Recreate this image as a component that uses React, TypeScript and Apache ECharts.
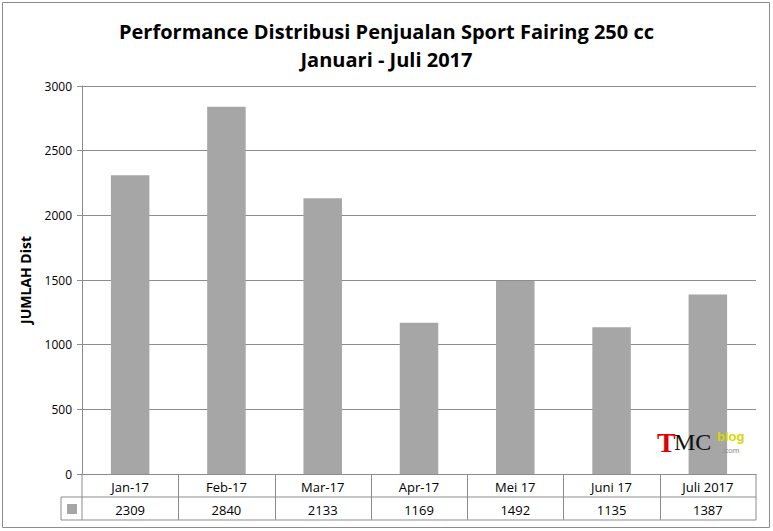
import React, { useEffect, useRef } from 'react';
import * as echarts from 'echarts';

const categories = ['Jan-17', 'Feb-17', 'Mar-17', 'Apr-17', 'Mei 17', 'Juni 17', 'Juli 2017'];
const values = [2309, 2840, 2133, 1169, 1492, 1135, 1387];
const titleLines = ['Performance Distribusi Penjualan Sport Fairing 250 cc', 'Januari - Juli 2017'];

const L = 82, R = 756, T = 86, B = 474, ROW = 23;

const App = () => {
  const ref = useRef<HTMLDivElement>(null);

  useEffect(() => {
    document.body.style.margin = '0';
    const chart = echarts.init(ref.current, null, { renderer: 'svg' });
    const line = '#8c8c8c';
    const colW = (R - L) / categories.length;
    const tableLines: any[] = [
      { type: 'line', shape: { x1: L, y1: B, x2: L, y2: B + 2 * ROW } },
      { type: 'line', shape: { x1: R, y1: B, x2: R, y2: B + 2 * ROW } },
      { type: 'line', shape: { x1: 61, y1: B + ROW, x2: R, y2: B + ROW } },
      { type: 'line', shape: { x1: 61, y1: B + 2 * ROW, x2: R, y2: B + 2 * ROW } },
      { type: 'line', shape: { x1: 61, y1: B + ROW, x2: 61, y2: B + 2 * ROW } },
    ];
    categories.forEach((_, i) => {
      if (i > 0) {
        const x = Math.round(L + colW * i) + 0.5;
        tableLines.push({ type: 'line', shape: { x1: x, y1: B, x2: x, y2: B + 2 * ROW } });
      }
    });
    chart.setOption({
      animation: false,
      title: {
        text: titleLines.join('\n'),
        left: 'center',
        top: 12,
        textStyle: { fontFamily: 'Open Sans', fontSize: 20, fontWeight: 'bold', color: '#000', lineHeight: 28 },
      },
      grid: { left: L, right: 773 - R, top: T, bottom: 531 - B },
      xAxis: [
        {
          type: 'category', data: categories, position: 'bottom',
          axisLine: { lineStyle: { color: line } }, axisTick: { show: false },
          axisLabel: { color: '#000', fontSize: 13, fontFamily: 'Open Sans', margin: 6 },
        },
        {
          type: 'category', data: values.map(String), position: 'bottom', offset: ROW,
          axisLine: { show: false }, axisTick: { show: false },
          axisLabel: { color: '#000', fontSize: 13, fontFamily: 'Open Sans', margin: 6 },
        },
      ],
      yAxis: {
        type: 'value', min: 0, max: 3000, interval: 500,
        name: 'JUMLAH Dist', nameLocation: 'middle', nameGap: 50,
        nameTextStyle: { fontFamily: 'Open Sans', fontWeight: 'bold', fontSize: 14, color: '#000' },
        axisLine: { show: true, lineStyle: { color: line } },
        axisTick: { show: true, length: 5, lineStyle: { color: line } },
        axisLabel: { color: '#000', fontSize: 12, fontFamily: 'Open Sans', margin: 10, formatter: (v: number) => String(v) },
        splitLine: { lineStyle: { color: line } },
      },
      series: [{
        type: 'bar', data: values, barWidth: '40%', itemStyle: { color: '#a6a6a6' },
      }],
      graphic: [
        { type: 'rect', shape: { x: 2.5, y: 2.5, width: 767, height: 525 }, style: { fill: 'none', stroke: line } },
        ...tableLines.map((l) => ({ ...l, style: { stroke: line, lineWidth: 1 } })),
        { type: 'rect', shape: { x: 67, y: 504, width: 10, height: 10 }, style: { fill: '#a6a6a6' } },
        { type: 'text', x: 657, y: 428, z: 10, style: { text: 'T', fill: '#e00000', font: 'bold 28px Liberation Serif' } },
        { type: 'text', x: 674, y: 430, z: 10, style: { text: 'MC', fill: '#111', font: '24px Liberation Serif' } },
        { type: 'text', x: 717, y: 430, z: 10, style: { text: 'blog', fill: '#d8d800', font: 'bold 13px Liberation Sans' } },
        { type: 'text', x: 722, y: 446, z: 10, style: { text: '.com', fill: '#888', font: '8px Liberation Sans' } },
      ],
    });
    return () => chart.dispose();
  }, []);

  return <div ref={ref} style={{ width: 773, height: 531 }} />;
};

export default App;
